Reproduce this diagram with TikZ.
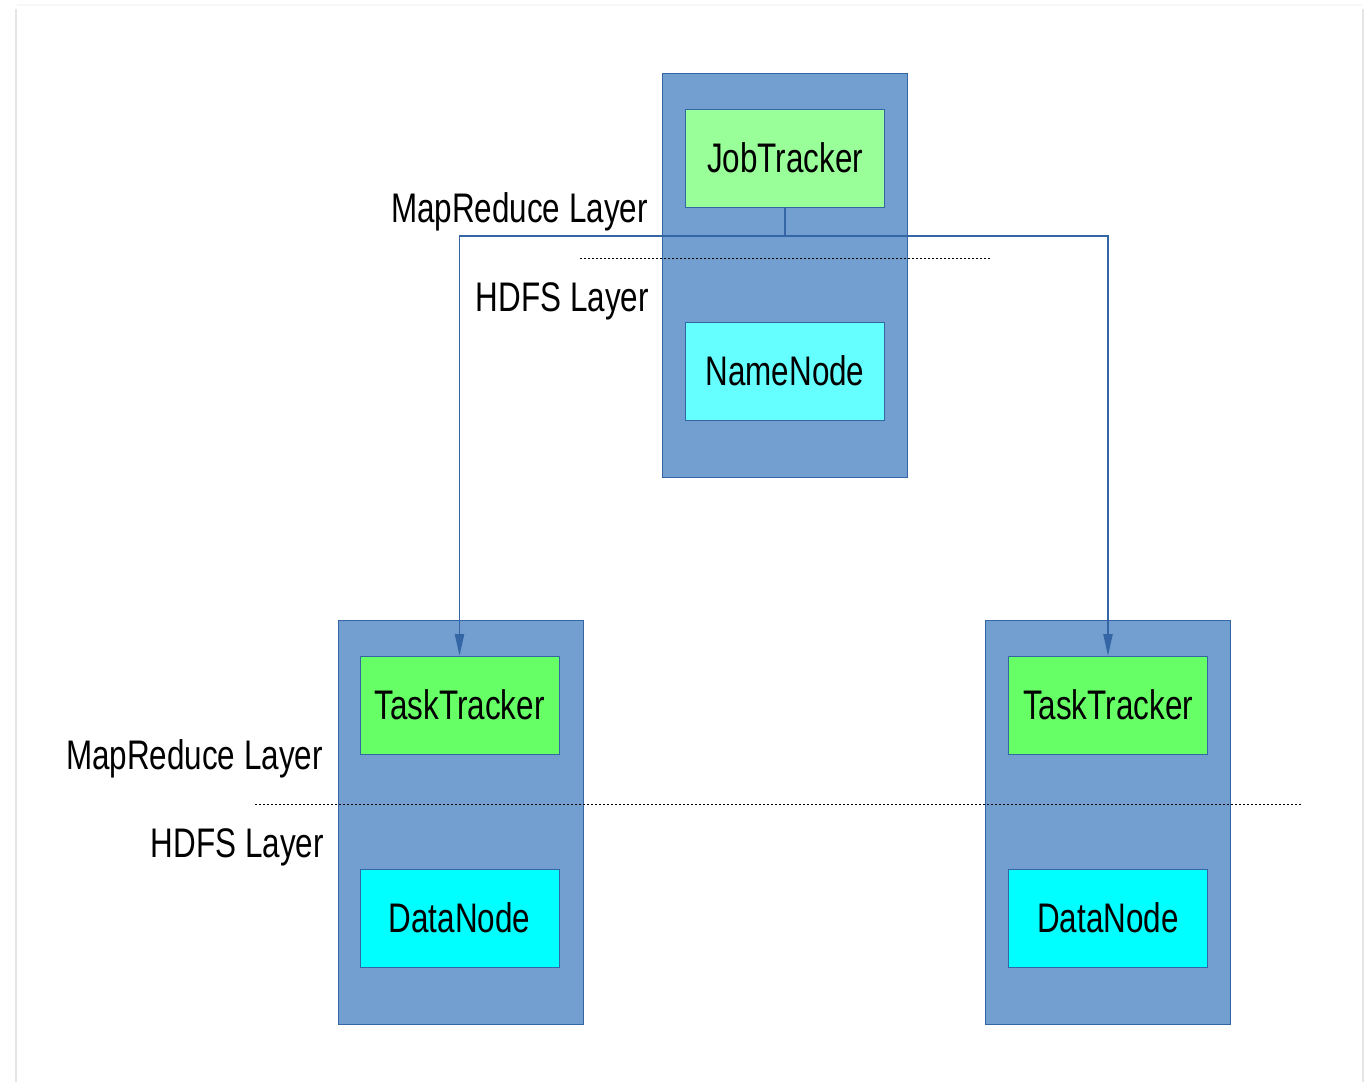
\documentclass[tikz,border=0pt]{standalone}
\usepackage{fontspec}
\setmainfont{Liberation Sans}[FakeStretch=0.76]
\usetikzlibrary{arrows.meta}
\definecolor{outerfill}{HTML}{729FCF}
\definecolor{edgeblue}{HTML}{3465A4}
\definecolor{jtfill}{HTML}{99FF99}
\definecolor{nnfill}{HTML}{66FFFF}
\definecolor{ttfill}{HTML}{66FF66}
\definecolor{dnfill}{HTML}{00FFFF}
\tikzset{
  outerbox/.style={draw=edgeblue, fill=outerfill, line width=0.9pt, minimum width=183.75pt, minimum height=303pt, inner sep=0pt, anchor=north west},
  innerbox/.style={draw=edgeblue, line width=0.75pt, minimum width=149.25pt, minimum height=73.5pt, inner sep=0pt, text height=22.2pt, text depth=0pt, font=\fontsize{31}{37}\selectfont},
  layerlabel/.style={anchor=east, inner sep=0pt, text height=22.2pt, text depth=0pt, font=\fontsize{31}{37}\selectfont},
  conn/.style={draw=edgeblue, line width=0.8pt},
  dotline/.style={draw=black, line width=0.75pt, dash pattern=on 1.5pt off 1.5pt},
  shadowline/.style={draw=black!10, line width=1.2pt},
}
\begin{document}
\begin{tikzpicture}[x=0.75pt, y=-0.75pt]
\useasboundingbox (0,0) rectangle (1367,1082);
\fill[white] (0,0) rectangle (1367,1082);
% page shadow
\draw[shadowline] (16,9) -- (16,1082);
\draw[shadowline] (1363,9) -- (1363,1082);
\draw[draw=black!3, line width=1pt] (17,5) -- (1362,5);
% outer boxes
\node[outerbox] (top) at (662,73) {};
\node[outerbox] (left) at (338,620) {};
\node[outerbox] (right) at (985,620) {};
% inner boxes
\node[innerbox, fill=jtfill] (jt) at (785,158) {JobTracker};
\node[innerbox, fill=nnfill] (nn) at (785,371) {NameNode};
\node[innerbox, fill=ttfill] (tt1) at (459.5,705) {TaskTracker};
\node[innerbox, fill=dnfill] (dn1) at (459.5,918) {DataNode};
\node[innerbox, fill=ttfill] (tt2) at (1108,705) {TaskTracker};
\node[innerbox, fill=dnfill] (dn2) at (1108,918) {DataNode};
% connectors
\coordinate (bus) at (785,236);
\draw[conn] (jt.south) -- (bus);
\draw[conn, -{Triangle[length=16pt, width=7pt]}] (bus) -| (tt1.north);
\draw[conn, -{Triangle[length=16pt, width=7pt]}] (bus) -| (tt2.north);
% layer separators
\coordinate (d1a) at (580,258);
\coordinate (d1b) at (991,258);
\coordinate (d2a) at (255,804.5);
\coordinate (d2b) at (1303,804.5);
\draw[dotline] (d1a) -- (d1b);
\draw[dotline] (d2a) -- (d2b);
% labels
\node[layerlabel] (mr1) at (648,207.5) {MapReduce Layer};
\node[layerlabel] (hd1) at (649,296.5) {HDFS Layer};
\node[layerlabel] (mr2) at (323,754.5) {MapReduce Layer};
\node[layerlabel] (hd2) at (324,843) {HDFS Layer};
\end{tikzpicture}
\end{document}
